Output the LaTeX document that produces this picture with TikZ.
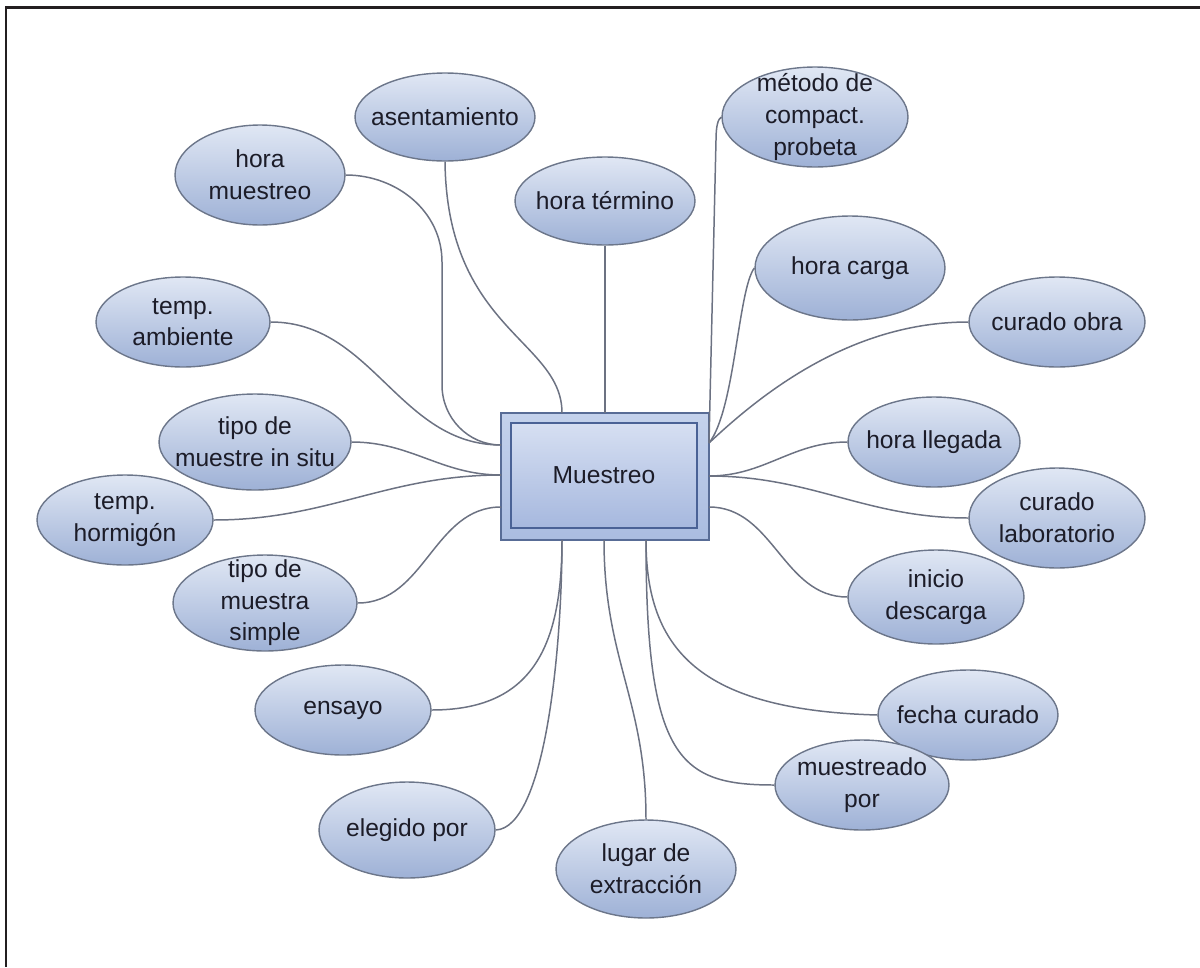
\documentclass[tikz,border=0pt]{standalone}
\usepackage{fontspec}
\setmainfont{Liberation Sans}
\usetikzlibrary{shapes.geometric}

\definecolor{bubTop}{RGB}{224,231,244}
\definecolor{bubBot}{RGB}{158,177,214}
\definecolor{bubLine}{RGB}{108,118,138}
\definecolor{boxTop}{RGB}{196,210,236}
\definecolor{boxBot}{RGB}{170,188,224}
\definecolor{boxLine}{RGB}{88,108,150}
\definecolor{coreTop}{RGB}{214,223,242}
\definecolor{coreBot}{RGB}{166,184,222}
\definecolor{coreLine}{RGB}{74,98,150}
\definecolor{linkC}{RGB}{108,114,130}
\definecolor{txt}{RGB}{28,28,40}
\definecolor{frameC}{RGB}{35,31,32}

% one oval: shape and its centred caption
\newcommand\bubble[6]{%
  \node[bub, minimum width=#4cm, minimum height=#5cm] (#1) at (#2,-#3) {};
  \node[lbl] (#1-t) at (#1) {#6};}

\begin{document}
\begin{tikzpicture}[x=0.02cm, y=0.02cm,
  bub/.style={ellipse, draw=bubLine, line width=0.8pt, top color=bubTop, bottom color=bubBot, inner sep=0pt},
  lbl/.style={align=center, font=\fontsize{14}{18}\selectfont, text=txt, inner sep=0pt},
  link/.style={draw=linkC, line width=0.85pt}]

\useasboundingbox (0,0) rectangle (1200,-967);

% page frame (top and left rules)
\draw[frameC, line width=1.2pt] (1200,-7.5) -- (6,-7.5) -- (6,-967);

% central topic
\node[draw=boxLine, line width=1pt, top color=boxTop, bottom color=boxBot,
      minimum width=4.16cm, minimum height=2.54cm, inner sep=0pt] (box) at (605,-476.5) {};
\node[draw=coreLine, line width=1pt, top color=coreTop, bottom color=coreBot,
      minimum width=3.72cm, minimum height=2.1cm, lbl] (core) at (604,-475.5) {Muestreo};

% attachment points on the central topic
\coordinate (bL1) at (501,-445);
\coordinate (bL2) at (501,-475);
\coordinate (bL3) at (501,-507);
\coordinate (bR1) at (709,-443);
\coordinate (bR2) at (709,-476);
\coordinate (bR3) at (709,-507);
\coordinate (bT1) at (562,-413);
\coordinate (bT2) at (605,-413);
\coordinate (bB1) at (562,-540);
\coordinate (bB2) at (604,-540);
\coordinate (bB3) at (646,-540);

% satellite topics
\bubble{hm}{260}{175}{3.4}{2.0}{hora\\muestreo}
\bubble{as}{445}{117}{3.6}{1.76}{asentamiento}
\bubble{ht}{605}{201}{3.6}{1.76}{hora término}
\bubble{mc}{815}{117}{3.72}{2.0}{método de\\compact.\\probeta}
\bubble{hc}{850}{268}{3.8}{2.08}{hora carga}
\bubble{co}{1057}{322}{3.52}{1.8}{curado obra}
\bubble{hl}{934}{442}{3.44}{1.8}{hora llegada}
\bubble{cl}{1057}{518}{3.52}{2.0}{curado\\laboratorio}
\bubble{id}{936}{597}{3.52}{1.88}{inicio\\descarga}
\bubble{fc}{968}{715}{3.6}{1.8}{fecha curado}
\bubble{mp}{862}{785}{3.48}{1.8}{muestreado\\por}
\bubble{le}{646}{869}{3.6}{1.96}{lugar de\\extracción}
\bubble{ep}{407}{830}{3.52}{1.92}{elegido por}
\bubble{en}{343}{710}{3.52}{1.8}{ensayo}
\bubble{ts}{265}{603}{3.68}{1.92}{tipo de\\muestra\\simple}
\bubble{th}{125}{520}{3.52}{1.8}{temp.\\hormigón}
\bubble{ti}{255}{442}{3.84}{1.92}{tipo de\\muestre in situ}
\bubble{ta}{183}{322}{3.48}{1.8}{temp.\\ambiente}

% connectors
\draw[link] (hm.east) to[out=0,in=90] (442,-262) -- (442,-385) to[out=-90,in=180] (bL1);
\draw[link] (as.south) .. controls (447,-330) and (562,-340) .. (bT1);
\draw[link] (ht.south) -- (bT2);
\draw[link] (mc.west) .. controls (718,-119) and (716,-126) .. (716,-140) -- (bR1);
\draw[link] (hc.west) .. controls (738,-290) and (735,-410) .. (bR1);
\draw[link] (co.west) .. controls (850,-322) and (760,-395) .. (bR1);
\draw[link] (hl.west) to[out=180,in=0] (bR2);
\draw[link] (cl.west) to[out=180,in=0] (bR2);
\draw[link] (id.west) to[out=180,in=0] (bR3);
\draw[link] (bB3) .. controls (646,-650) and (700,-710) .. (fc.west);
\draw[link] (bB3) .. controls (646,-760) and (680,-785) .. (mp.west);
\draw[link] (bB2) .. controls (604,-660) and (646,-700) .. (le.north);
\draw[link] (ep.east) .. controls (545,-828) and (562,-650) .. (bB1);
\draw[link] (en.east) .. controls (530,-710) and (562,-650) .. (bB1);
\draw[link] (ts.east) to[out=0,in=180] (bL3);
\draw[link] (th.east) to[out=0,in=180] (bL2);
\draw[link] (ti.east) to[out=0,in=180] (bL2);
\draw[link] (ta.east) to[out=0,in=180] (bL1);
\end{tikzpicture}
\end{document}
